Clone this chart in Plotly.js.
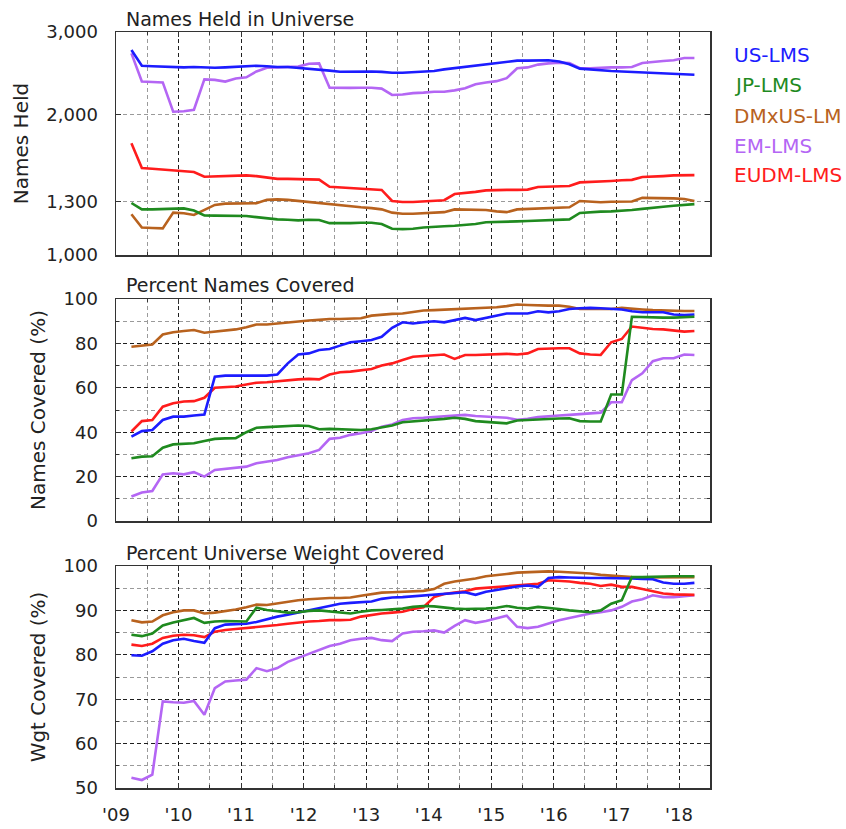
<!DOCTYPE html>
<html>
<head>
<meta charset="utf-8">
<script src="https://cdn.plot.ly/plotly-3.0.1.min.js"></script>
<style>html,body{margin:0;padding:0;background:#fff;}#chart{width:846px;height:829px;}</style>
</head>
<body>
<div id="chart"></div>
<script>
// ---------- data ----------
const dates = ['2009-04','2009-06','2009-08','2009-10','2009-12',
'2010-02','2010-04','2010-06','2010-08','2010-10','2010-12',
'2011-02','2011-04','2011-06','2011-08','2011-10','2011-12',
'2012-02','2012-04','2012-06','2012-08','2012-10','2012-12',
'2013-02','2013-04','2013-06','2013-08','2013-10','2013-12',
'2014-02','2014-04','2014-06','2014-08','2014-10','2014-12',
'2015-02','2015-04','2015-06','2015-08','2015-10','2015-12',
'2016-02','2016-04','2016-06','2016-08','2016-10','2016-12',
'2017-02','2017-04','2017-06','2017-08','2017-10','2017-12',
'2018-02','2018-04'];

const seriesNames = ['US-LMS','JP-LMS','DMxUS-LM','EM-LMS','EUDM-LMS'];
const panelTitles = ['Names Held in Universe','Percent Names Covered','Percent Universe Weight Covered'];
const yTitles = ['Names Held','Names Covered (%)','Wgt Covered (%)'];
const xTickFormat = "'%y";
const heldTickVals = [1000,1300,2000,3000];
const heldTickText = ['1,000','1,300','2,000','3,000'];

// Names Held in Universe
const heldUS = [2745,2540,2535,2530,2525, 2520,2525,2520,2515,2520,2525, 2530,2540,2535,2525,2525,2515, 2505,2495,2480,2466,2470,2475, 2470,2465,2455,2455,2460,2465, 2475,2495,2510,2525,2545,2560, 2575,2595,2605,2605,2610,2610, 2595,2560,2505,2495,2480,2475, 2470,2465,2460,2455,2450,2445, 2440,2430];
const heldJP = [1292,1252,1252,1255,1258, 1258,1245,1215,1214,1214,1214, 1212,1205,1198,1192,1190,1186, 1190,1188,1170,1168,1170,1172, 1172,1165,1138,1136,1138,1145, 1150,1152,1155,1158,1165,1175, 1178,1178,1180,1182,1185,1188, 1190,1192,1230,1235,1238,1240, 1242,1248,1255,1260,1268,1275, 1282,1285];
const heldDM = [1222,1145,1142,1140,1232, 1228,1218,1248,1280,1288,1290, 1290,1290,1312,1315,1312,1305, 1295,1290,1285,1278,1272,1265, 1260,1252,1232,1225,1225,1228, 1230,1235,1252,1250,1248,1248, 1240,1235,1252,1255,1258,1262, 1262,1265,1305,1300,1297,1300, 1302,1302,1325,1325,1322,1322, 1318,1305];
const heldEM = [2700,2350,2345,2340,2025, 2030,2045,2375,2370,2350,2385, 2400,2470,2515,2520,2525,2530, 2565,2570,2280,2275,2278,2280, 2280,2270,2200,2205,2220,2225, 2235,2235,2250,2275,2320,2340, 2355,2390,2510,2520,2555,2570, 2580,2575,2510,2510,2518,2520, 2520,2525,2575,2590,2600,2610, 2640,2640];
const heldEU = [1735,1535,1530,1525,1520, 1515,1505,1470,1472,1478,1480, 1480,1475,1465,1455,1455,1455, 1452,1450,1400,1395,1390,1385, 1382,1378,1305,1298,1298,1302, 1305,1310,1350,1355,1365,1375, 1378,1378,1378,1380,1398,1400, 1400,1405,1430,1432,1435,1440, 1445,1448,1468,1470,1475,1480, 1482,1482];

// Percent Names Covered
const covUS = [38,40.5,41,45.5,47, 47,47.5,48,65,65.5,65.5, 65.5,65.5,65.5,66,71,75, 75.5,77,77.5,79,80.5,81, 81.5,83,87,89.5,89,89.5, 90,89.5,90.5,91.5,90.5,91.5, 92.5,93.5,93.5,93.5,94.5,94, 94.5,95.5,95.8,96,95.8,95.5, 95.3,94.5,94,94,94,93, 92.8,93];
const covJP = [28.3,29,29.2,33,34.5, 34.8,35,36,37,37.2,37.3, 40,42,42.3,42.5,42.8,43, 42.8,41.3,41.5,41.3,41,41, 41.3,42,43,44.5,44.8,45.3, 45.6,46,46.5,46,45,44.6, 44.3,44,45.3,45.6,45.8,46, 46.2,46.3,45,44.8,44.8,57, 57,92,91.8,91.7,91.6,91.6, 91.8,92];
const covDM = [78.5,79,79.5,84,85, 85.6,86,84.8,85.3,85.8,86.3, 87.3,88.5,88.5,89,89.5,90, 90.3,90.6,91,91,91.2,91.3, 92.5,93,93.3,93.5,94.3,94.8, 95,95.2,95.4,95.6,95.8,96, 96.3,96.8,97.5,97.3,97,97, 97,96.5,95.5,95.5,95.5,95.5, 96,95.8,95.3,95,94.8,94.6, 94.6,94.6];
const covEM = [11,12.8,13.5,21,21.5, 21,22,20,23,23.5,24, 24.5,26,26.8,27.5,28.7,29.5, 30.5,32,37,37.5,38.8,39.5, 40.5,42.5,43.5,45.5,46.3,46.5, 46.8,47,47.5,47.8,47.3,47, 47,46.5,45.6,46,46.8,47.3, 47.5,47.8,48.3,48.5,48.8,53.5, 53.5,63.5,66.5,72,73.3,73.3, 75,74.8];
const covEU = [40.3,45,45.5,51.5,53, 53.8,54,55.5,60,60.3,60.6, 61.5,62.3,62.5,63,63.3,63.8, 64,63.8,66,67,67.3,67.8, 68.5,70,71,72.5,74,74.3, 74.8,75,73,74.8,74.8,75, 75,75.3,75,75.5,77.5,77.8, 77.8,77.8,75.5,75,74.8,80.5, 82,87.6,87,86.5,86.3,85.8, 85.3,85.6];

// Percent Universe Weight Covered
const wgtUS = [79.9,79.8,80.8,82.5,83.3, 83.6,83.1,82.7,86,86.8,86.9, 87,87.4,88,88.6,89,89.5, 90,90.4,90.9,91.5,91.7,91.8, 92,92.6,92.9,93,93.2,93.3, 93.5,93.8,94,94.1,93.5,94.2, 94.6,95,95.4,95.6,95.3,97.3, 97.5,97.4,97.3,97.3,97.3,97.3, 97.3,97.2,97.1,97,96.3,96, 96,96.2];
const wgtJP = [84.5,84.2,84.8,86.6,87.3, 87.9,88.3,87.2,87.5,87.6,87.6, 87.5,90.6,90.1,89.8,89.5,89.6, 89.9,90,89.8,89.5,89.3,89.7, 90,90.1,90.3,90.4,90.8,91, 90.9,90.6,90.4,90.3,90.3,90.4, 90.6,91,90.6,90.4,90.8,90.6, 90.3,90,89.8,89.6,90,91.5, 92.3,97.5,97.5,97.6,97.6,97.7, 97.7,97.7];
const wgtDM = [87.8,87.3,87.5,88.9,89.6, 90,90,89.3,89.5,89.8,90.2, 90.7,91.3,91.2,91.6,91.9,92.3, 92.5,92.7,92.8,92.8,92.9,93.3, 93.6,94,94.1,94.2,94.3,94.4, 94.8,96,96.5,96.8,97.2,97.7, 97.9,98.2,98.5,98.6,98.7,98.8, 98.7,98.6,98.4,98.3,98,97.8, 97.6,97.5,97.4,97.4,97.4,97.5, 97.5,97.5];
const wgtEM = [52.3,51.8,53,69.5,69.3, 69.2,69.6,66.5,72.5,74,74.2, 74.4,77,76.3,77,78.4,79.3, 80.2,81.2,82,82.5,83.3,83.6, 83.8,83.3,83.1,84.8,85.2,85.3, 85.5,85,86.5,87.8,87.2,87.6, 88.2,88.8,86.3,86,86.3,87, 87.8,88.3,88.8,89.3,89.6,90, 90.8,92,92.5,93.4,93,93, 93.2,93.4];
const wgtEU = [82.3,82,82.5,83.8,84.3, 84.5,84.4,84,85.2,85.6,85.8, 86,86.3,86.5,86.7,87,87.3, 87.5,87.6,87.8,87.8,87.9,88.6, 89,89.3,89.5,89.7,90.3,90.7, 93,93.7,94,94.3,94.9,95.1, 95.3,95.5,95.7,95.8,96,96.8, 96.7,96.5,96.2,96,95.5,95.8, 95.3,95.3,94.8,94.3,93.8,93.6, 93.5,93.5];

// ---------- styling ----------
const colors = {'US-LMS':'#1c1cff','JP-LMS':'#1f8a1f','DMxUS-LM':'#b8621e','EM-LMS':'#b466f4','EUDM-LMS':'#ff1c1c'};
const FONT = 'DejaVu Sans, Arial, sans-serif';
const TXT = '#222';
const MAJ = '#1e1e1e', MIN = '#9a9a9a', DASH = '4px,3px';
const W = 846, Hh = 829, ML = 116, MR = 136, MT = 32, MB = 41;
const plotH = Hh - MT - MB;
const pyToPaper = py => (Hh - MB - py) / plotH;
const pxToPaper = px => (px - ML) / (W - ML - MR);

const panels = [
  {ax:'3', vals:{'US-LMS':heldUS,'JP-LMS':heldJP,'DMxUS-LM':heldDM,'EM-LMS':heldEM,'EUDM-LMS':heldEU}},
  {ax:'2', vals:{'US-LMS':covUS,'JP-LMS':covJP,'DMxUS-LM':covDM,'EM-LMS':covEM,'EUDM-LMS':covEU}},
  {ax:'',  vals:{'US-LMS':wgtUS,'JP-LMS':wgtJP,'DMxUS-LM':wgtDM,'EM-LMS':wgtEM,'EUDM-LMS':wgtEU}}
];
const drawOrder = ['DMxUS-LM','EM-LMS','EUDM-LMS','US-LMS','JP-LMS'];

const traces = [];
panels.forEach(p => {
  drawOrder.forEach(n => {
    traces.push({type:'scatter', mode:'lines', name:n, x:dates, y:p.vals[n],
      xaxis:'x'+p.ax, yaxis:'y'+p.ax, showlegend:false,
      line:{color:colors[n], width:2.6}});
  });
});

function xax(anchor, labels) {
  return {type:'date', range:['2009-01-01','2018-07-01'], anchor:anchor, domain:[0,1],
    dtick:'M12', tick0:'2009-01-01', tickformat:xTickFormat, showticklabels:labels,
    ticks:'inside', ticklen:5, tickcolor:'#333', tickwidth:1,
    showline:true, mirror:'ticks', linecolor:'#333', linewidth:1.5,
    showgrid:true, gridcolor:MAJ, griddash:DASH, gridwidth:1, zeroline:false,
    minor:{dtick:'M6', tick0:'2009-01-01', showgrid:true, gridcolor:MIN, griddash:DASH, gridwidth:1,
      ticks:'inside', ticklen:3, tickcolor:'#333'},
    tickfont:{family:FONT, size:18, color:TXT}, ticklabelstandoff:10, fixedrange:true};
}
function yax(extra) {
  return Object.assign({anchor:'x', ticks:'inside', ticklen:5, tickcolor:'#333',
    showline:true, mirror:'ticks', linecolor:'#333', linewidth:1.5,
    showgrid:true, gridcolor:MAJ, griddash:DASH, gridwidth:1, zeroline:false,
    tickfont:{family:FONT, size:18, color:TXT}, ticklabelstandoff:13, fixedrange:true}, extra);
}

const layout = {
  width:W, height:Hh, margin:{l:ML, r:MR, t:MT, b:MB, pad:0},
  paper_bgcolor:'#fff', plot_bgcolor:'#fff', showlegend:false, hovermode:false,
  font:{family:FONT, color:TXT},
  xaxis: xax('y', true),
  xaxis2: xax('y2', false),
  xaxis3: xax('y3', false),
  yaxis: yax({anchor:'x', domain:[0, pyToPaper(566)], range:[50,100], tick0:50, dtick:10,
    minor:{tick0:50, dtick:5, showgrid:true, gridcolor:MIN, griddash:DASH, ticks:'inside', ticklen:3, tickcolor:'#333'},
    title:{text:yTitles[2], font:{family:FONT, size:20, color:TXT}, standoff:12}}),
  yaxis2: yax({anchor:'x2', domain:[pyToPaper(521), pyToPaper(299)], range:[0,100], tick0:0, dtick:20,
    minor:{tick0:0, dtick:10, showgrid:true, gridcolor:MIN, griddash:DASH, ticks:'inside', ticklen:3, tickcolor:'#333'},
    title:{text:yTitles[1], font:{family:FONT, size:20, color:TXT}, standoff:12}}),
  yaxis3: yax({anchor:'x3', domain:[pyToPaper(255), 1], type:'log', range:[3, Math.log10(3000)],
    tickmode:'array', tickvals:heldTickVals, ticktext:heldTickText, gridcolor:MIN,
    title:{text:yTitles[0], font:{family:FONT, size:20, color:TXT}, standoff:12}}),
  annotations: []
};

// panel titles
[[18.5,0],[285,1],[552.5,2]].forEach(([py,i]) => {
  layout.annotations.push({xref:'paper', yref:'paper', x:pxToPaper(124), y:pyToPaper(py),
    xanchor:'left', yanchor:'middle', showarrow:false, text:panelTitles[i],
    font:{family:FONT, size:19, color:TXT}});
});
// legend as coloured labels
const legendY = [55, 85, 115.5, 145.5, 175.5];
seriesNames.forEach((n,i) => {
  layout.annotations.push({xref:'paper', yref:'paper', x:pxToPaper(732), y:pyToPaper(legendY[i]),
    xanchor:'left', yanchor:'middle', showarrow:false, text:n,
    font:{family:FONT, size:20, color:colors[n]}});
});

Plotly.newPlot('chart', traces, layout, {displayModeBar:false, staticPlot:true});
</script>
</body>
</html>
